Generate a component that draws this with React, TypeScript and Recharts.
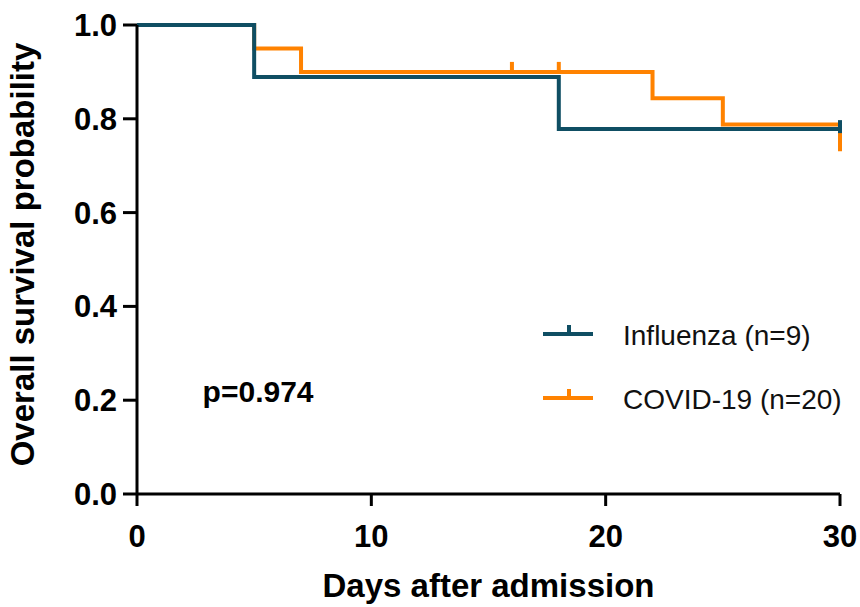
import React from "react"
import { LineChart, Line, XAxis, YAxis, Legend, ReferenceDot } from "recharts"

// Kaplan-Meier steps
const fluDays = [0, 5, 18, 30]
const fluSurvival = [1, 0.889, 0.778, 0.778]
const fluCensored = [false, false, false, true]

const covidDays = [0, 5, 7, 16, 18, 22, 25, 30]
const covidSurvival = [1, 0.95, 0.9, 0.9, 0.9, 0.844, 0.788, 0.731]
const covidCensored = [false, false, false, true, true, false, false, false]

const xTicks = [0, 10, 20, 30]
const yTicks = [0, 0.2, 0.4, 0.6, 0.8, 1.0]

const FLU_NAME = "Influenza (n=9)"
const COVID_NAME = "COVID-19 (n=20)"
const pValueText = "p=0.974"

const TEAL = "#0f4e63"
const ORANGE = "#ff8200"
const FONT = "'Liberation Sans', Arial, Helvetica, sans-serif"

const toSeries = (days: number[], surv: number[], cens: boolean[]) =>
  days.map((d, i) => ({ day: d, survival: surv[i], censored: cens[i] }))

const fluData = toSeries(fluDays, fluSurvival, fluCensored)
const covidData = toSeries(covidDays, covidSurvival, covidCensored)

const censorMark = (color: string, up: number, down: number) => (props: any) => {
  const { cx, cy, payload, index } = props
  if (!payload?.censored) return <g key={`c-${index}`} />
  return (
    <line
      key={`c-${index}`}
      x1={cx}
      x2={cx}
      y1={cy - up}
      y2={cy + down}
      stroke={color}
      strokeWidth={4}
    />
  )
}

const legendItems = [
  { name: FLU_NAME, color: TEAL },
  { name: COVID_NAME, color: ORANGE },
]

function KmLegend() {
  return (
    <svg width={320} height={110}>
      {legendItems.map((it, i) => {
        const y = 18 + i * 64
        return (
          <g key={it.name}>
            <line x1={3} x2={53} y1={y} y2={y} stroke={it.color} strokeWidth={4} />
            <line x1={29} x2={29} y1={y - 9} y2={y} stroke={it.color} strokeWidth={4} />
            <text x={83} y={y + 4} dominantBaseline="middle" fontFamily={FONT} fontSize={28} fill="#111">
              {it.name}
            </text>
          </g>
        )
      })}
    </svg>
  )
}

export default function App() {
  return (
    <div style={{ position: "absolute", left: 0, top: 0, width: 860, height: 607, background: "#fff" }}>
      <LineChart width={860} height={607} margin={{ top: 25, right: 20, bottom: 0, left: 0 }}>
        <XAxis
          type="number"
          dataKey="day"
          domain={[0, 30]}
          ticks={xTicks}
          allowDuplicatedCategory={false}
          height={113}
          tickSize={12}
          tickMargin={19}
          axisLine={{ stroke: "#000", strokeWidth: 3 }}
          tickLine={{ stroke: "#000", strokeWidth: 3 }}
          tick={{ fill: "#000", fontSize: 31, fontWeight: 700, fontFamily: FONT }}
          label={{
            content: (p: any) => {
              const vb = p.viewBox
              return (
                <text
                  x={vb.x + vb.width / 2}
                  y={vb.y + 103}
                  textAnchor="middle"
                  fontFamily={FONT}
                  fontSize={33}
                  fontWeight={700}
                  fill="#000"
                >
                  Days after admission
                </text>
              )
            },
          }}
        />
        <YAxis
          type="number"
          domain={[0, 1]}
          ticks={yTicks}
          width={137}
          tickSize={14}
          tickMargin={6}
          tickFormatter={(v: number) => v.toFixed(1)}
          axisLine={{ stroke: "#000", strokeWidth: 3 }}
          tickLine={{ stroke: "#000", strokeWidth: 3 }}
          tick={{ fill: "#000", fontSize: 31, fontWeight: 700, fontFamily: FONT }}
          label={{
            content: (p: any) => {
              const vb = p.viewBox
              const cx = 22
              const cy = vb.y + vb.height / 2 - 5
              return (
                <text
                  x={cx}
                  y={cy}
                  transform={`rotate(-90 ${cx} ${cy})`}
                  textAnchor="middle"
                  dominantBaseline="central"
                  fontFamily={FONT}
                  fontSize={33}
                  fontWeight={700}
                  fill="#000"
                >
                  Overall survival probability
                </text>
              )
            },
          }}
        />
        <Line
          data={covidData}
          dataKey="survival"
          name={COVID_NAME}
          type="stepAfter"
          stroke={ORANGE}
          strokeWidth={4}
          dot={censorMark(ORANGE, 10, 0)}
          activeDot={false}
          isAnimationActive={false}
        />
        <Line
          data={fluData}
          dataKey="survival"
          name={FLU_NAME}
          type="stepAfter"
          stroke={TEAL}
          strokeWidth={4}
          dot={censorMark(TEAL, 9, 4)}
          activeDot={false}
          isAnimationActive={false}
        />
        <ReferenceDot
          x={2.8}
          y={0.219}
          r={0}
          fill="none"
          stroke="none"
          label={{
            content: (p: any) => {
              const vb = p.viewBox
              return (
                <text
                  x={vb.x}
                  y={vb.y}
                  dominantBaseline="central"
                  fontFamily={FONT}
                  fontSize={30}
                  fontWeight={700}
                  fill="#000"
                >
                  {pValueText}
                </text>
              )
            },
          }}
        />
        <Legend
          layout="vertical"
          align="center"
          verticalAlign="middle"
          wrapperStyle={{ position: "absolute", left: 540, top: 316, width: 320, height: 110 }}
          content={() => <KmLegend />}
        />
      </LineChart>
    </div>
  )
}
